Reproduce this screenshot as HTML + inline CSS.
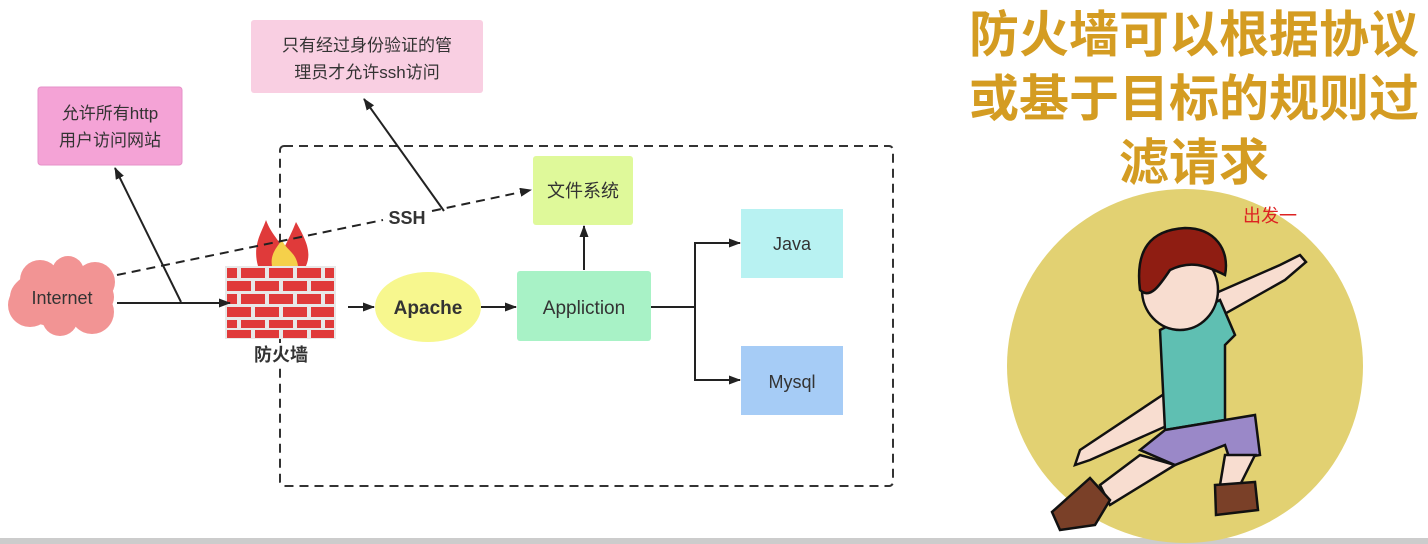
<!DOCTYPE html>
<html><head><meta charset="utf-8"><style>
body{margin:0;width:1428px;height:544px;background:#fff;overflow:hidden;font-family:"Liberation Sans","Noto Sans CJK SC",sans-serif}
</style></head><body>
<svg width="1428" height="544" xmlns="http://www.w3.org/2000/svg" style="position:absolute;left:0;top:0">
<defs><marker id="a" markerWidth="12" markerHeight="9" refX="11" refY="4.5" orient="auto" markerUnits="userSpaceOnUse"><path d="M0,0 L12,4.5 L0,9 Z" fill="#222"/></marker></defs>
<rect x="0" y="538" width="1428" height="6" fill="#ccc"/>
<rect x="280" y="146" width="613" height="340" rx="4" fill="none" stroke="#333" stroke-width="2" stroke-dasharray="9,6"/>
<rect x="38" y="87" width="144" height="78" rx="3" fill="#f4a3d6" stroke="#e690c8"/>
<text x="110" y="119" font-size="17" text-anchor="middle" fill="#333">允许所有http</text>
<text x="110" y="146" font-size="17" text-anchor="middle" fill="#333">用户访问网站</text>
<rect x="251" y="20" width="232" height="73" rx="3" fill="#f9cfe2"/>
<text x="367" y="51" font-size="17" text-anchor="middle" fill="#333">只有经过身份验证的管</text>
<text x="367" y="78" font-size="17" text-anchor="middle" fill="#333">理员才允许ssh访问</text>
<rect x="533" y="156" width="100" height="69" rx="3" fill="#dff99a"/>
<text x="583" y="197" font-size="18" text-anchor="middle" fill="#333">文件系统</text>
<rect x="741" y="209" width="102" height="69" fill="#b8f2f2"/>
<text x="792" y="250" font-size="18" text-anchor="middle" fill="#333">Java</text>
<rect x="741" y="346" width="102" height="69" fill="#a6ccf6"/>
<text x="792" y="388" font-size="18" text-anchor="middle" fill="#333">Mysql</text>
<rect x="517" y="271" width="134" height="70" rx="3" fill="#a8f2c6"/>
<text x="584" y="314" font-size="19" text-anchor="middle" fill="#333">Appliction</text>
<ellipse cx="428" cy="307" rx="53" ry="35" fill="#f7f78e"/>
<text x="428" y="314" font-size="19" font-weight="bold" text-anchor="middle" fill="#333">Apache</text>
<g fill="#f29494">
<ellipse cx="62" cy="297" rx="52" ry="30"/><circle cx="40" cy="280" r="20"/><circle cx="68" cy="272" r="16"/><circle cx="95" cy="282" r="20"/><circle cx="30" cy="305" r="22"/><circle cx="60" cy="318" r="18"/><circle cx="92" cy="312" r="22"/>
</g>
<text x="62" y="304" font-size="18" text-anchor="middle" fill="#333">Internet</text>
<path d="M258,266 C252,245 262,232 266,220 C272,236 280,240 283,250 C288,240 292,232 296,222 C306,240 312,252 306,266 Z" fill="#e03a3a"/>
<path d="M272,266 C270,255 276,248 282,240 C286,250 296,252 298,266 Z" fill="#f5d04a"/>
<rect x="225" y="266" width="111" height="73" fill="#e8e8e8"/>
<g fill="#e03a3a">
<rect x="227" y="268" width="10" height="10"/><rect x="241" y="268" width="24" height="10"/><rect x="269" y="268" width="24" height="10"/><rect x="297" y="268" width="24" height="10"/><rect x="325" y="268" width="9" height="10"/>
<rect x="227" y="281" width="24" height="10"/><rect x="255" y="281" width="24" height="10"/><rect x="283" y="281" width="24" height="10"/><rect x="311" y="281" width="23" height="10"/>
<rect x="227" y="294" width="10" height="10"/><rect x="241" y="294" width="24" height="10"/><rect x="269" y="294" width="24" height="10"/><rect x="297" y="294" width="24" height="10"/><rect x="325" y="294" width="9" height="10"/>
<rect x="227" y="307" width="24" height="10"/><rect x="255" y="307" width="24" height="10"/><rect x="283" y="307" width="24" height="10"/><rect x="311" y="307" width="23" height="10"/>
<rect x="227" y="320" width="10" height="8"/><rect x="241" y="320" width="24" height="8"/><rect x="269" y="320" width="24" height="8"/><rect x="297" y="320" width="24" height="8"/><rect x="325" y="320" width="9" height="8"/>
<rect x="227" y="330" width="24" height="8"/><rect x="255" y="330" width="24" height="8"/><rect x="283" y="330" width="24" height="8"/><rect x="311" y="330" width="23" height="8"/>
</g>
<rect x="258" y="343" width="46" height="20" fill="#fff"/>
<text x="281" y="361" font-size="18" font-weight="bold" text-anchor="middle" fill="#333">防火墙</text>
<g stroke="#222" stroke-width="2" fill="none">
<line x1="117" y1="303" x2="230" y2="303" marker-end="url(#a)"/>
<line x1="181" y1="302" x2="115" y2="168" marker-end="url(#a)"/>
<line x1="444" y1="211" x2="364" y2="99" marker-end="url(#a)"/>
<line x1="348" y1="307" x2="374" y2="307" marker-end="url(#a)"/>
<line x1="481" y1="307" x2="516" y2="307" marker-end="url(#a)"/>
<line x1="584" y1="270" x2="584" y2="226" marker-end="url(#a)"/>
<polyline points="651,307 695,307"/>
<polyline points="738,243 695,243 695,380 738,380" />
<line x1="720" y1="243" x2="740" y2="243" marker-end="url(#a)"/>
<line x1="720" y1="380" x2="740" y2="380" marker-end="url(#a)"/>
<line x1="117" y1="275" x2="383" y2="220" stroke-dasharray="9,6"/>
<line x1="432" y1="211" x2="531" y2="190" stroke-dasharray="9,6" marker-end="url(#a)"/>
</g>
<rect x="384" y="206" width="46" height="20" fill="#fff"/>
<text x="407" y="224" font-size="18" font-weight="bold" text-anchor="middle" fill="#333">SSH</text>
<g font-size="50" font-weight="bold" fill="#d49c22" text-anchor="middle" font-family="'Noto Sans CJK SC',sans-serif">
<text x="1194" y="52">防火墙可以根据协议</text>
<text x="1194" y="116">或基于目标的规则过</text>
<text x="1194" y="180">滤请求</text>
</g>
<ellipse cx="1185" cy="366" rx="178" ry="177" fill="#e2d172"/>
<text x="1243" y="222" font-size="18" fill="#d22" font-family="'Noto Sans CJK SC',sans-serif">出发一</text>
<g stroke="#111" stroke-width="2.5">
<path d="M1200,300 L1280,265 L1300,255 L1306,262 L1285,280 L1205,325 Z" fill="#f8ddd0"/>
<path d="M1170,390 L1080,450 L1075,465 L1090,460 L1180,420 Z" fill="#f8ddd0"/>
<path d="M1160,330 L1220,300 L1235,335 L1225,345 L1225,420 L1165,430 Z" fill="#5fbfb2"/>
<path d="M1165,430 L1255,415 L1260,455 L1230,460 L1225,445 L1175,465 L1140,450 Z" fill="#9a88c8"/>
<path d="M1140,455 L1100,485 L1110,505 L1175,465 Z" fill="#f8ddd0"/>
<path d="M1225,455 L1220,485 L1240,485 L1255,455 Z" fill="#f8ddd0"/>
<path d="M1090,478 L1110,500 L1095,525 L1060,530 L1052,512 Z" fill="#7a4028"/>
<path d="M1215,485 L1255,482 L1258,510 L1216,515 Z" fill="#7a4028"/>
<ellipse cx="1180" cy="290" rx="38" ry="40" fill="#f8ddd0"/>
<path d="M1140,290 C1135,250 1150,230 1185,228 C1215,228 1230,250 1225,275 C1205,265 1190,260 1170,270 C1160,285 1150,300 1140,290 Z" fill="#8f1d12"/>
</g>
</svg>
</body></html>
